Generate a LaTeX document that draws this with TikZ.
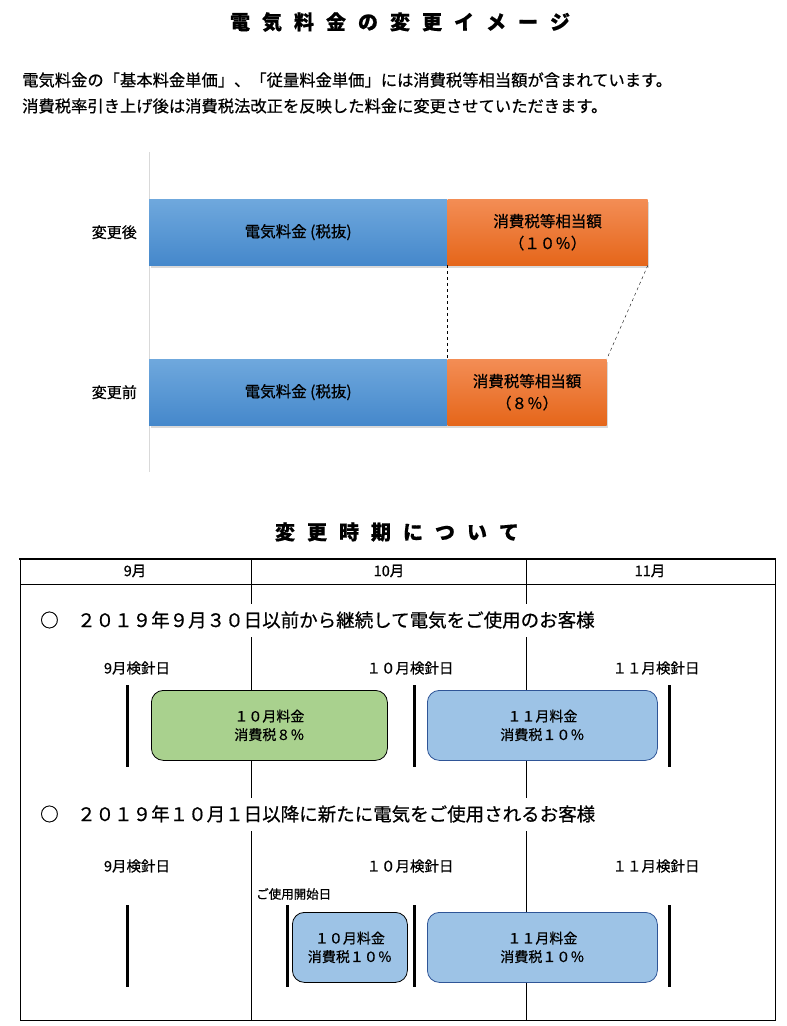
\documentclass[tikz,border=0pt]{standalone}
\usepackage{fontspec}
\setmainfont{Noto Sans CJK JP}[FakeBold=0.6]
\usetikzlibrary{positioning,shadows}

\definecolor{netblueT}{HTML}{6FA8DD}
\definecolor{netblueB}{HTML}{4588CB}
\definecolor{taxorangeT}{HTML}{F38D55}
\definecolor{taxorangeB}{HTML}{E5661A}
\definecolor{billgreen}{HTML}{A9D18E}
\definecolor{billblue}{HTML}{9DC3E6}
\definecolor{billblueline}{HTML}{2F5597}
\definecolor{axisgray}{HTML}{D9D9D9}

\begin{document}
\begin{tikzpicture}[
    x=1pt, y=-1pt,
    every node/.style={inner sep=0pt},
    heading/.style={font=\fontsize{20}{24}\selectfont\bfseries\setlength{\spaceskip}{12pt}},
    lead/.style={anchor=west, font=\fontsize{16.3}{20}\selectfont},
    bar/.style={anchor=north west, minimum height=66, align=center,
                font=\fontsize{15.5}{22}\selectfont,
                drop shadow={opacity=0.3, shadow xshift=1.5pt, shadow yshift=-2.5pt}},
    netbar/.style={bar, top color=netblueT, bottom color=netblueB},
    taxbar/.style={bar, top color=taxorangeT, bottom color=taxorangeB},
    barlabel/.style={anchor=east, font=\fontsize{15}{18}\selectfont},
    month/.style={font=\fontsize{14.5}{16}\selectfont},
    case/.style={anchor=west, fill=white, minimum height=33,
                 font=\fontsize{18.5}{22}\selectfont},
    meterday/.style={font=\fontsize{14.5}{16}\selectfont},
    reading/.style={line width=3pt},
    bill/.style={draw, rounded corners=12pt, anchor=north west, align=center,
                 minimum height=70, line width=0.8pt,
                 font=\fontsize{14}{18.5}\selectfont},
    frame/.style={line width=1pt}
]
\useasboundingbox (0,0) rectangle (787,1026);

% Titles and notes
\node[heading] (title) at (400,22) {電 気 料 金 の 変 更 イ メ ー ジ};
\node[lead] (note1) at (22,80) {電気料金の「基本料金単価」、「従量料金単価」には消費税等相当額が含まれています。};
\node[lead] (note2) at (22,106) {消費税率引き上げ後は消費税法改正を反映した料金に変更させていただきます。};

% Bar chart
\draw[axisgray] (149,152) -- (149,472);
\node[netbar, minimum width=298] (afternet) at (149,199) {電気料金 (税抜)};
\node[taxbar, minimum width=200] (aftertax) at (afternet.north east) {消費税等相当額\\（１０％）};
\node[netbar, minimum width=298] (beforenet) at (149,359) {電気料金 (税抜)};
\node[taxbar, minimum width=159] (beforetax) at (beforenet.north east) {消費税等相当額\\（８％）};
\node[barlabel, left=12pt of afternet] (afterlbl) {変更後};
\node[barlabel, left=12pt of beforenet] (beforelbl) {変更前};
\draw[dashed] (afternet.south east) -- (beforenet.north east);
\draw[dashed] (aftertax.south east) -- (beforetax.north east);

\node[heading] (period) at (397,532) {変 更 時 期 に つ い て};

% Timeline table
\draw[line width=2.4pt] (19,559) -- (776,559);
\draw[frame] (20,559) -- (20,1020) -- (775,1020) -- (775,559);
\draw (20,584) -- (775,584);
\draw (251,559) -- (251,1020);
\draw (526,559) -- (526,1020);
\node[month] (sep) at (135,571) {9月};
\node[month] (oct) at (389,571) {10月};
\node[month] (nov) at (650,571) {11月};

% Existing customers
\node[case] (caseA) at (40,620) {○　２０１９年９月３０日以前から継続して電気をご使用のお客様};
\node[meterday] (readA1) at (137,668) {9月検針日};
\node[meterday] (readA2) at (410,668) {１０月検針日};
\node[meterday] (readA3) at (656,668) {１１月検針日};
\draw[reading] (127,685) -- (127,767);
\draw[reading] (414,685) -- (414,767);
\draw[reading] (669,685) -- (669,767);
\node[bill, fill=billgreen, minimum width=236] (octA) at (151,690) {１０月料金\\消費税８％};
\node[bill, fill=billblue, draw=billblueline, minimum width=230] (novA) at (427,690) {１１月料金\\消費税１０％};

% New customers
\node[case] (caseB) at (40,814) {○　２０１９年１０月１日以降に新たに電気をご使用されるお客様};
\node[meterday] (readB1) at (137,866) {9月検針日};
\node[meterday] (readB2) at (410,866) {１０月検針日};
\node[meterday] (readB3) at (656,866) {１１月検針日};
\node[anchor=west, font=\fontsize{12.5}{14}\selectfont] (start) at (256,894) {ご使用開始日};
\draw[reading] (127,905) -- (127,987);
\draw[reading] (287,905) -- (287,987);
\draw[reading] (414,905) -- (414,987);
\draw[reading] (669,905) -- (669,987);
\node[bill, fill=billblue, minimum width=115] (octB) at (292,912) {１０月料金\\消費税１０％};
\node[bill, fill=billblue, draw=billblueline, minimum width=230] (novB) at (427,912) {１１月料金\\消費税１０％};

\end{tikzpicture}
\end{document}
